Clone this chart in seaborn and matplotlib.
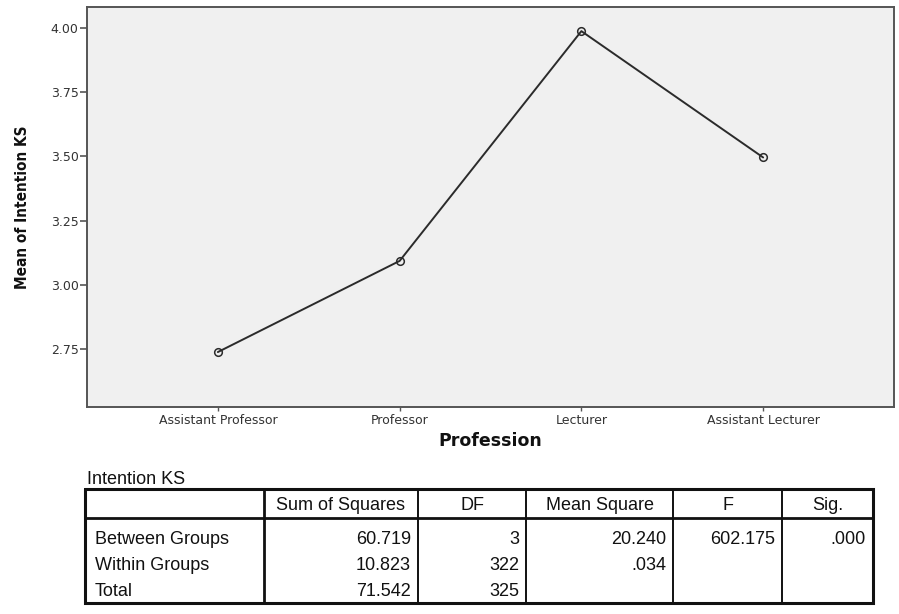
import matplotlib
matplotlib.use("Agg")
import matplotlib.pyplot as plt
from matplotlib import font_manager
import seaborn as sns
import pandas as pd

# Group means of Intention KS by profession
professions = ["Assistant Professor", "Professor", "Lecturer", "Assistant Lecturer"]
mean_intention = [2.738, 3.093, 3.988, 3.496]
y_ticks = [2.75, 3.00, 3.25, 3.50, 3.75, 4.00]

# One-way ANOVA summary
anova_title = "Intention KS"
anova_headers = ["", "Sum of Squares", "DF", "Mean Square", "F", "Sig."]
anova_rows = ["Between Groups", "Within Groups", "Total"]
sum_of_squares = ["60.719", "10.823", "71.542"]
dof = ["3", "322", "325"]
mean_square = ["20.240", ".034", ""]
f_value = ["602.175", "", ""]
sig_value = [".000", "", ""]

sns.set_theme(style="white")
names = {f.name for f in font_manager.fontManager.ttflist}
narrow = "Liberation Sans Narrow" if "Liberation Sans Narrow" in names else "DejaVu Sans"
plt.rcParams["font.family"] = ["DejaVu Sans"]

W, H = 899, 614
fig = plt.figure(figsize=(W / 100, H / 100), dpi=100)

# --- means plot -------------------------------------------------------------
L, R, T, B = 87, 894, 7, 407
ax = fig.add_axes([L / W, 1 - B / H, (R - L) / W, (B - T) / H])
ax.set_facecolor("#f0f0f0")

df_means = pd.DataFrame({"Profession": professions, "Mean": mean_intention})
sns.pointplot(data=df_means, x="Profession", y="Mean", order=professions,
              errorbar=None, color="#2b2b2b", markers="o", linestyles="-",
              markersize=5.5, linewidth=1.4, markerfacecolor="none",
              markeredgewidth=1.1, ax=ax)

ax.set_xlim(-0.72, 3.72)
ax.set_ylim(2.524, 4.082)
ax.set_yticks(y_ticks)
ax.set_yticklabels([f"{v:.2f}" for v in y_ticks])

for side, sp in ax.spines.items():
    sp.set_visible(True)
    sp.set_color("#555555")
    sp.set_linewidth(1.4)

ax.tick_params(axis="y", direction="out", length=5, width=1.2, color="#555555",
               labelsize=9, labelcolor="#333333", pad=1, left=True)
ax.tick_params(axis="x", direction="out", length=3, width=1.0, color="#555555",
               labelsize=9, labelcolor="#333333", pad=2, bottom=True)

ax.set_xlabel("Profession", fontsize=12.5, fontweight="bold", color="#111111",
              labelpad=4)
ax.set_ylabel("Mean of Intention KS", fontsize=11, fontweight="bold",
              color="#111111", family=[narrow, "DejaVu Sans"],
              fontstretch="condensed", labelpad=15)

# --- ANOVA table ------------------------------------------------------------
tab = fig.add_axes([0, 0, 1, 1], zorder=5)
tab.set_xlim(0, W)
tab.set_ylim(H, 0)
tab.axis("off")

col_edges = [85, 264, 418, 526, 673, 782, 873]
top, head_bottom, bottom = 489, 518, 603
header_y = 506
row_y = [539, 566, 592]
tfont = dict(family=["Liberation Sans", "DejaVu Sans"], fontsize=13,
             color="#111111")

tab.text(col_edges[0] + 2, 480, anova_title, ha="left", va="center", **tfont)

# outer frame and header rule
tab.plot([col_edges[0], col_edges[-1], col_edges[-1], col_edges[0], col_edges[0]],
         [top, top, bottom, bottom, top], color="#111111", lw=2.2,
         solid_joinstyle="miter")
tab.plot([col_edges[0], col_edges[-1]], [head_bottom, head_bottom],
         color="#111111", lw=2.0)
for x in col_edges[1:-1]:
    lw = 2.0 if x == col_edges[1] else 1.4
    tab.plot([x, x], [top, bottom], color="#111111", lw=lw)

for i, h in enumerate(anova_headers):
    if h:
        cx = (col_edges[i] + col_edges[i + 1]) / 2
        tab.text(cx, header_y, h, ha="center", va="center", **tfont)

columns = [sum_of_squares, dof, mean_square, f_value, sig_value]
for r, label in enumerate(anova_rows):
    tab.text(col_edges[0] + 10, row_y[r], label, ha="left", va="center", **tfont)
    for c, col in enumerate(columns):
        if col[r]:
            tab.text(col_edges[c + 2] - 7, row_y[r], col[r], ha="right",
                     va="center", **tfont)

fig.savefig("out.png", dpi=100, facecolor="white")
